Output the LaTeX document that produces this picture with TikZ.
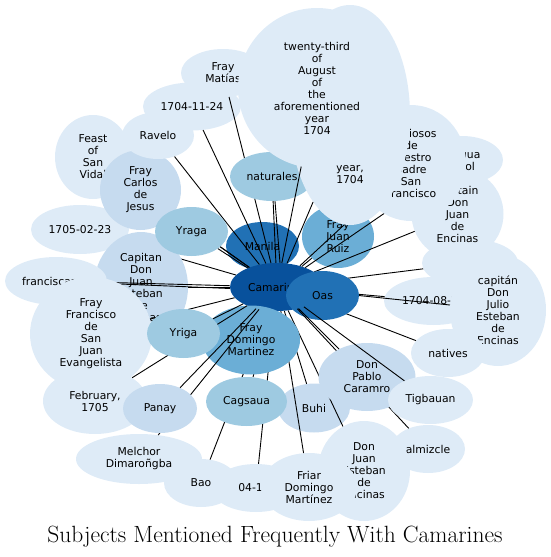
\documentclass[tikz,border=0pt]{standalone}
\usepackage{fontspec}
\usetikzlibrary{shapes.geometric}
\newfontfamily\dvs{DejaVu Sans}
\definecolor{cB}{HTML}{08519C}
\definecolor{cC}{HTML}{2171B5}
\definecolor{cE}{HTML}{6BAED6}
\definecolor{cF}{HTML}{9ECAE1}
\definecolor{cG}{HTML}{C6DBEF}
\definecolor{cH}{HTML}{DEEBF7}
\tikzset{
  nd/.style={ellipse, draw=none, inner sep=0pt, align=center, font=\dvs\fontsize{10.8}{12}\selectfont},
  lbl/.style={inner sep=0pt, align=center, font=\dvs\fontsize{10.8}{12}\selectfont},
  ed/.style={draw=black, line width=0.9pt},
}
\newcommand\nd[7]{\node[nd, fill=#5, minimum width=#3*2pt, minimum height=#4*2pt] (#6) at (#1,#2) {#7};}
\begin{document}
\begin{tikzpicture}[x=1pt,y=-1pt]
\useasboundingbox (0,0) rectangle (551,557);
\nd{262.5}{246}{36.5}{24}{cC}{manila}{Manila}
\nd{277}{287}{47}{24}{cB}{cam}{Camarines}
\nd{93}{157}{38}{42}{cH}{feast}{Feast\\of\\San\\Vidal}
\draw[ed] (cam) -- (feast);
\nd{80}{229.5}{49}{24.5}{cH}{d1705}{1705-02-23}
\draw[ed] (cam) -- (d1705);
\nd{140.5}{190}{40.5}{40}{cG}{carlos}{Fray\\Carlos\\de\\Jesus}
\draw[ed] (cam) -- (carlos);
\nd{158}{135.5}{36}{23.5}{cH}{ravelo}{Ravelo}
\draw[ed] (cam) -- (ravelo);
\nd{192}{106.5}{49}{24}{cH}{d1124}{1704-11-24}
\draw[ed] (cam) -- (d1124);
\nd{223}{73}{42}{24}{cH}{matias}{Fray\\Matías}
\draw[ed] (cam) -- (matias);
\nd{272}{176.5}{42}{24.5}{cF}{nat}{naturales}
\draw[ed] (cam) -- (nat);
\draw[ed] ([xshift=3pt]cam.north) -- ([xshift=3pt]nat.south);
\nd{338}{236.5}{36}{31.5}{cE}{ruiz}{Fray\\Juan\\Ruiz}
\draw[ed] (cam) -- (ruiz);
\nd{470}{263}{48}{24}{cH}{hid}{}
\draw[ed] (cam) -- (hid);
\nd{457.5}{214}{46}{46}{cH}{captain}{Captain\\Don\\Juan\\de\\Encinas}
\draw[ed] (cam) -- (captain);
\nd{462}{160}{41}{24}{cH}{lengua}{lengua\\Bicol}
\draw[ed] (cam) -- (lengua);
\nd{411}{163}{55}{58}{cH}{relig}{religiosos\\de\\nuestro\\padre\\San\\Francisco}
\draw[ed] (cam) -- (relig);
\nd{350}{115}{60}{110}{cH}{tall}{}
\node[lbl] (tallt) at (350,175) {year,\\1704};
\draw[ed] (cam) -- (tall);
\nd{317}{88}{79}{80}{cH}{twenty}{twenty-third\\of\\August\\of\\the\\aforementioned\\year\\1704}
\draw[ed] (cam) -- (twenty);
\nd{433.5}{301}{49.5}{24}{cH}{d0823}{1704-08-23}
\draw[ed] (cam) -- (d0823);
\nd{498}{310}{48}{56}{cH}{julio}{capitán\\Don\\Julio\\Esteban\\de\\Encinas}
\draw[ed] (cam) -- (julio);
\nd{448}{353}{37}{24}{cH}{natives}{natives}
\draw[ed] (cam) -- (natives);
\nd{322.5}{295.5}{36.5}{24.5}{cC}{oas}{Oas}
\nd{428}{449}{37}{24}{cH}{almiz}{almizcle}
\draw[ed] (cam) -- (almiz);
\nd{314}{408}{36}{24.5}{cG}{buhi}{Buhi}
\draw[ed] (cam) -- (buhi);
\nd{364}{471}{46}{50}{cH}{donjuan}{Don\\Juan\\Esteban\\de\\Encinas}
\draw[ed] (cam) -- (donjuan);
\nd{367}{377}{48.5}{34}{cG}{pablo}{Don\\Pablo\\Caramro}
\draw[ed] (cam) -- (pablo);
\nd{430.5}{400}{42.5}{24}{cH}{tigb}{Tigbauan}
\draw[ed] (cam) -- (tigb);
\nd{256}{488}{43}{24}{cH}{d1104}{1704-11-14}
\draw[ed] (cam) -- (d1104);
\nd{309}{487}{48}{34}{cH}{friar}{Friar\\Domingo\\Martínez}
\draw[ed] (cam) -- (friar);
\nd{201}{483}{37}{24}{cH}{bao}{Bao}
\draw[ed] (cam) -- (bao);
\nd{246.5}{401.5}{40.5}{24.5}{cF}{cags}{Cagsaua}
\draw[ed] (cam) -- (cags);
\nd{251}{340}{49}{34.5}{cE}{fdm}{Fray\\Domingo\\Martinez}
\nd{139}{459}{63}{25}{cH}{melchor}{Melchor\\Dimaroñgba}
\draw[ed] (cam) -- (melchor);
\nd{141}{287}{47}{55}{cG}{capitan}{Capitan\\Don\\Juan\\Esteban\\de\\Encinas}
\draw[ed] (cam) -- (capitan);
\nd{56}{281}{51}{24}{cH}{franc}{franciscanos}
\draw[ed] (cam) -- (franc);
\draw[ed] ([yshift=-1.5pt]cam.west) -- ([yshift=-2.5pt]franc.east);
\nd{95}{401}{52}{33}{cH}{feb}{February,\\1705}
\draw[ed] (cam) -- (feb);
\nd{160}{408.5}{37}{24.5}{cG}{panay}{Panay}
\draw[ed] (cam) -- (panay);
\nd{91}{334}{61}{57}{cH}{ffsj}{Fray\\Francisco\\de\\San\\Juan\\Evangelista}
\draw[ed] (cam) -- (ffsj);
\nd{183.5}{333.5}{36.5}{24.5}{cF}{yriga}{Yriga}
\draw[ed] (cam) -- (yriga);
\nd{191.5}{231.5}{36.5}{24.5}{cF}{yraga}{Yraga}
\draw[ed] (cam) -- (yraga);
\node[inner sep=0pt, font=\fontsize{23.5}{26}\selectfont] (title) at (275,536.6) {Subjects Mentioned Frequently With Camarines};
\end{tikzpicture}
\end{document}
